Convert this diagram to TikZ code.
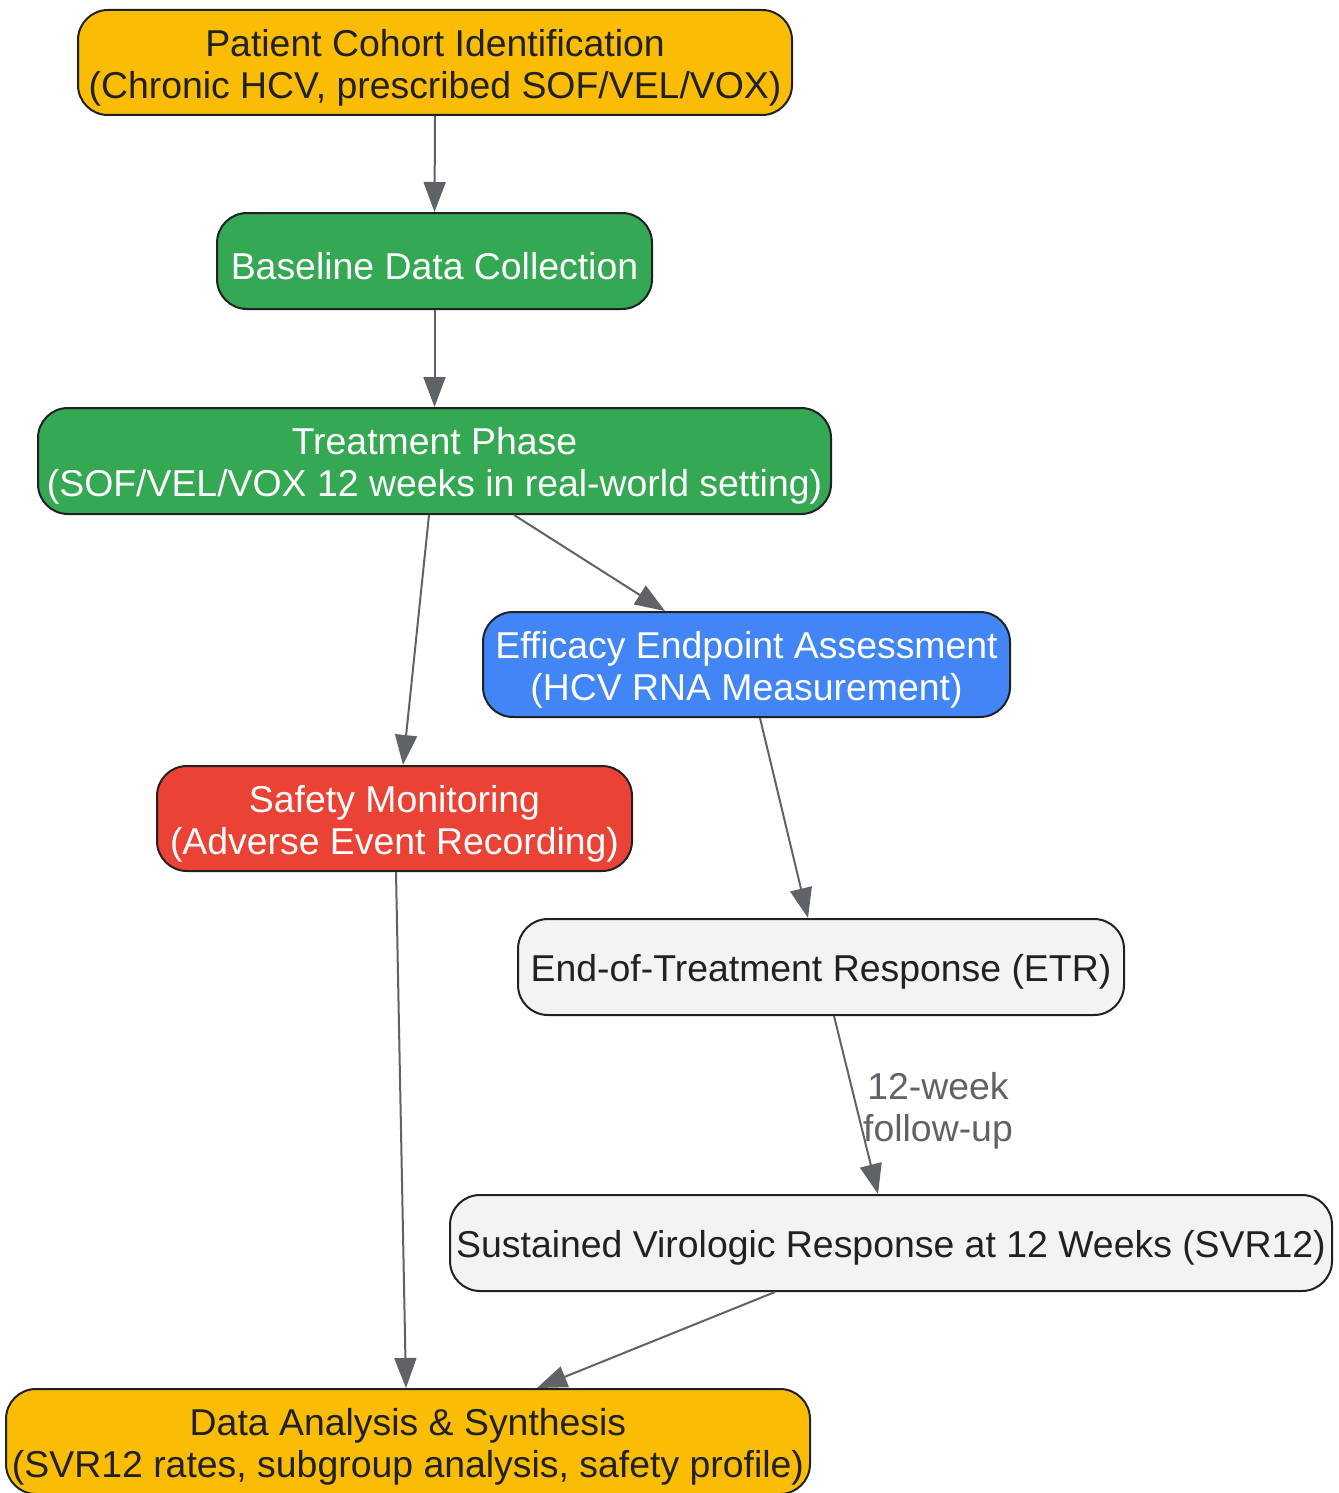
\documentclass[tikz,border=0pt]{standalone}
\usepackage{fontspec}
\setmainfont{Liberation Sans}
\usetikzlibrary{arrows.meta}
\definecolor{cyellow}{HTML}{FBBC05}
\definecolor{cgreen}{HTML}{34A853}
\definecolor{cblue}{HTML}{4285F4}
\definecolor{cred}{HTML}{EA4335}
\definecolor{cgray}{HTML}{F1F3F4}
\definecolor{cborder}{HTML}{202124}
\definecolor{carrow}{HTML}{5F6368}
\tikzset{
  box/.style={draw=cborder, line width=2pt, rounded corners=30pt, inner sep=0pt},
  txt/.style={align=center, inner sep=0pt, yshift=-5pt, font=\fontsize{37.4}{42}\selectfont},
  darktxt/.style={txt, text=cborder},
  lighttxt/.style={txt, text=white},
  arr/.style={draw=carrow, line width=2pt, -{Triangle[length=30pt,width=22pt]}},
}
\begin{document}
\begin{tikzpicture}[x=1pt,y=-1pt]
\useasboundingbox (0,0) rectangle (1338,1493);
\node[box, fill=cyellow, minimum width=714pt, minimum height=105pt,
  label={[darktxt]center:{Patient Cohort Identification\\(Chronic HCV, prescribed SOF/VEL/VOX)}}] (n1) at (435,62.5) {};
\node[box, fill=cgreen, minimum width=435pt, minimum height=96pt,
  label={[lighttxt]center:{Baseline Data Collection}}] (n2) at (434.5,261) {};
\node[box, fill=cgreen, minimum width=793pt, minimum height=106pt,
  label={[lighttxt]center:{Treatment Phase\\(SOF/VEL/VOX 12 weeks in real-world setting)}}] (n3) at (434.5,461) {};
\node[box, fill=cblue, minimum width=527pt, minimum height=105pt,
  label={[lighttxt]center:{Efficacy Endpoint Assessment\\(HCV RNA Measurement)}}] (n4) at (746.5,664.5) {};
\node[box, fill=cred, minimum width=475pt, minimum height=105pt,
  label={[lighttxt]center:{Safety Monitoring\\(Adverse Event Recording)}}] (n5) at (394.5,818.5) {};
\node[box, fill=cgray, minimum width=606pt, minimum height=96pt,
  label={[darktxt]center:{End-of-Treatment Response (ETR)}}] (n6) at (821,967) {};
\node[box, fill=cgray, minimum width=882pt, minimum height=96pt,
  label={[darktxt]center:{Sustained Virologic Response at 12 Weeks (SVR12)}}] (n7) at (891,1243) {};
\node[box, fill=cyellow, minimum width=804pt, minimum height=105pt,
  label={[darktxt]center:{Data Analysis \& Synthesis\\(SVR12 rates, subgroup analysis, safety profile)}}] (n8) at (408,1441.5) {};

\draw[arr] (n1.south) -- (n2.north);
\draw[arr] (n2.south) -- (n3.north);
\draw[arr] ([xshift=-5.5pt]n3.south) -- ([xshift=8.5pt]n5.north);
\draw[arr] ([xshift=79.5pt]n3.south) -- ([xshift=-81.5pt]n4.north);
\draw[arr] ([xshift=13.5pt]n4.south) -- ([xshift=-13pt]n6.north);
\draw[arr] ([xshift=13pt]n6.south) -- node[pos=0.5, xshift=82pt, yshift=-6pt, text=carrow, align=center, font=\fontsize{37.4}{42}\selectfont, inner sep=0pt] (lbl) {12-week\\follow-up} ([xshift=-13pt]n7.north);
\draw[arr] ([xshift=-116pt]n7.south) -- ([xshift=129pt]n8.north);
\draw[arr] ([xshift=1.5pt]n5.south) -- ([xshift=-2pt]n8.north);
\end{tikzpicture}
\end{document}
